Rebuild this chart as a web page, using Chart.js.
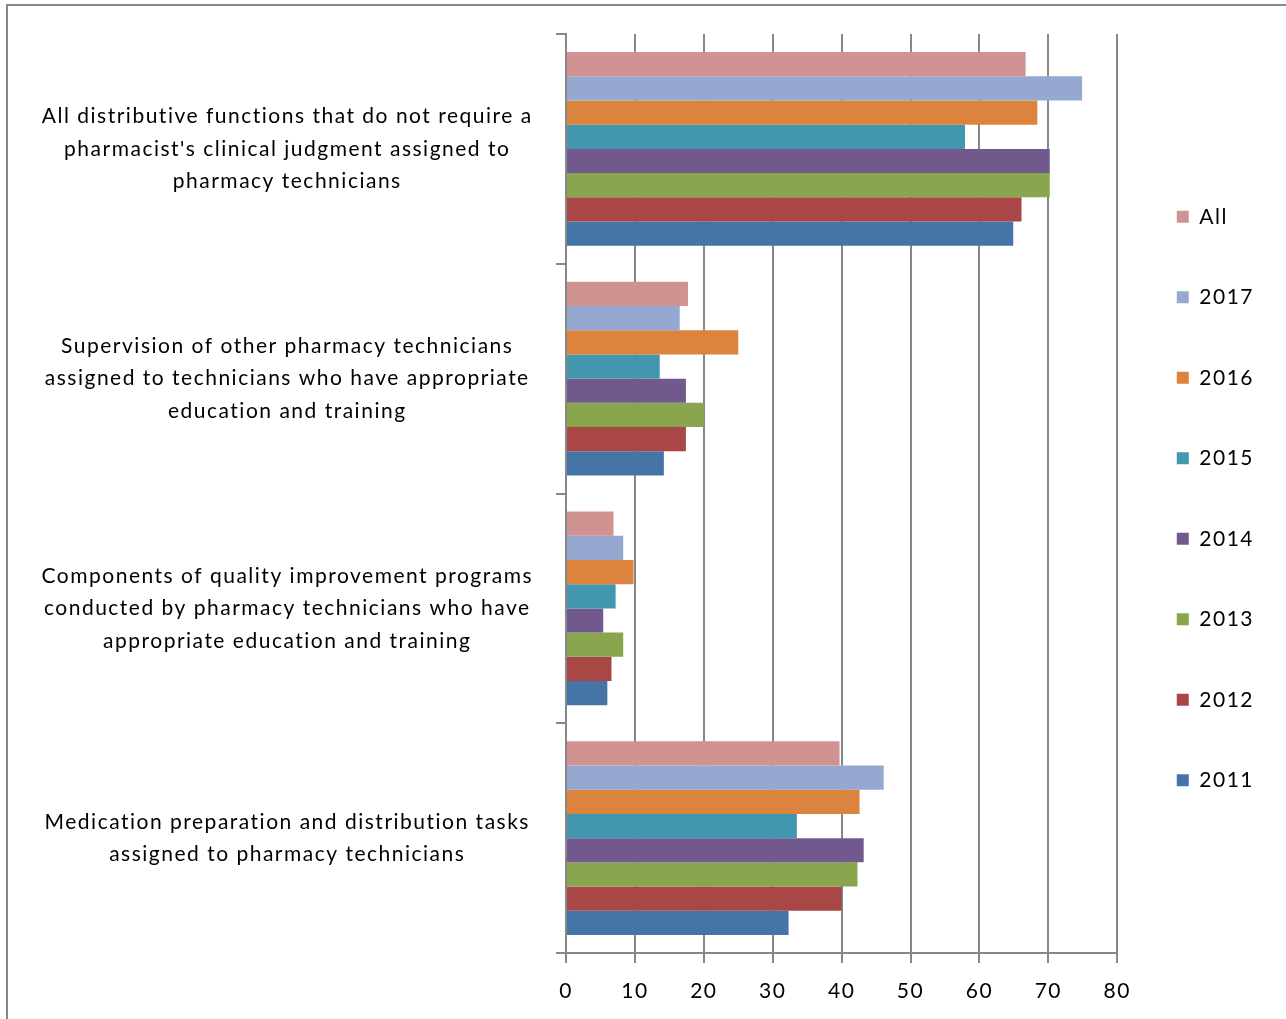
<!DOCTYPE html>
<html>
<head>
<meta charset="utf-8">
<script src="https://cdn.jsdelivr.net/npm/chart.js@4"></script>
<style>
  html, body { margin: 0; padding: 0; background: #fff; }
  canvas { display: block; }
</style>
</head>
<body>
<canvas id="techChart" width="1286" height="1019"></canvas>
<script>
const categories = [
  ["All distributive functions that do not require a", "pharmacist's clinical judgment assigned to", "pharmacy technicians"],
  ["Supervision of other pharmacy technicians", "assigned to technicians who have appropriate", "education and training"],
  ["Components of quality improvement programs", "conducted by pharmacy technicians who have", "appropriate education and training"],
  ["Medication preparation and distribution tasks", "assigned to pharmacy technicians"],
];

const seriesNames = ["All", "2017", "2016", "2015", "2014", "2013", "2012", "2011"];
const seriesColors = ["#D19391", "#95A9D0", "#DC833E", "#4297AF", "#72598D", "#89A54E", "#A84745", "#4574A6"];

const all = [66.7, 17.7, 6.9, 39.7];
const y2017 = [74.9, 16.5, 8.3, 46.1];
const y2016 = [68.4, 25.0, 9.8, 42.6];
const y2015 = [57.9, 13.6, 7.2, 33.5];
const y2014 = [70.2, 17.4, 5.4, 43.2];
const y2013 = [70.2, 20.0, 8.3, 42.3];
const y2012 = [66.1, 17.4, 6.6, 40.0];
const y2011 = [64.9, 14.2, 6.0, 32.3];

const seriesValues = [all, y2017, y2016, y2015, y2014, y2013, y2012, y2011];

const axisGray = "#878787";
const fontFamily = "Lato, 'Open Sans', sans-serif";

// outer frame + the looser letter spacing of the original text
const framePlugin = {
  id: "frame",
  beforeUpdate(chart) {
    chart.ctx.letterSpacing = "1.5px";
  },
  beforeDraw(chart) {
    const ctx = chart.ctx;
    ctx.letterSpacing = "1.5px";
    ctx.save();
    ctx.fillStyle = "#fff";
    ctx.fillRect(0, 0, chart.width, chart.height);
    ctx.strokeStyle = axisGray;
    ctx.lineWidth = 2;
    ctx.strokeRect(7, 5, chart.width + 20, chart.height + 20);
    ctx.restore();
  },
};

const techCtx = document.getElementById("techChart").getContext("2d");

const techChart = new Chart(techCtx, {
  type: "bar",
  data: {
    labels: categories,
    datasets: seriesNames.map((name, i) => ({
      label: name,
      data: seriesValues[i],
      backgroundColor: seriesColors[i],
      borderWidth: 0,
      categoryPercentage: 0.8435,
      barPercentage: 1.0,
    })),
  },
  options: {
    indexAxis: "y",
    responsive: false,
    animation: false,
    layout: {
      padding: { top: 34, right: 22, bottom: 0, left: 0 },
    },
    scales: {
      x: {
        min: 0,
        max: 80,
        ticks: {
          stepSize: 10,
          color: "#000",
          padding: 16,
          font: { family: fontFamily, size: 21 },
        },
        grid: {
          color: axisGray,
          lineWidth: 2,
          tickLength: 10,
        },
        border: { color: axisGray, width: 2 },
        afterFit(scale) {
          scale.height = 66;
          scale.paddingLeft = 0;
          scale.paddingRight = 0;
        },
      },
      y: {
        ticks: {
          color: "#000",
          crossAlign: "center",
          padding: 23,
          font: { family: fontFamily, size: 21, lineHeight: 1.55 },
        },
        grid: {
          color: axisGray,
          lineWidth: 2,
          drawOnChartArea: false,
          tickLength: 10,
          offset: true,
        },
        border: { color: axisGray, width: 2 },
        afterFit(scale) {
          scale.width = 566;
          scale.paddingTop = 0;
          scale.paddingBottom = 0;
        },
      },
    },
    plugins: {
      legend: {
        position: "right",
        fullSize: false,
        // empty title only used to nudge the items down a little
        title: { display: true, text: "", font: { size: 6, lineHeight: 1 }, padding: 2 },
        labels: {
          boxWidth: 12,
          boxHeight: 12,
          padding: 59.5,
          color: "#000",
          font: { family: fontFamily, size: 21 },
        },
      },
      tooltip: { enabled: false },
    },
  },
  plugins: [framePlugin],
});
</script>
</body>
</html>
